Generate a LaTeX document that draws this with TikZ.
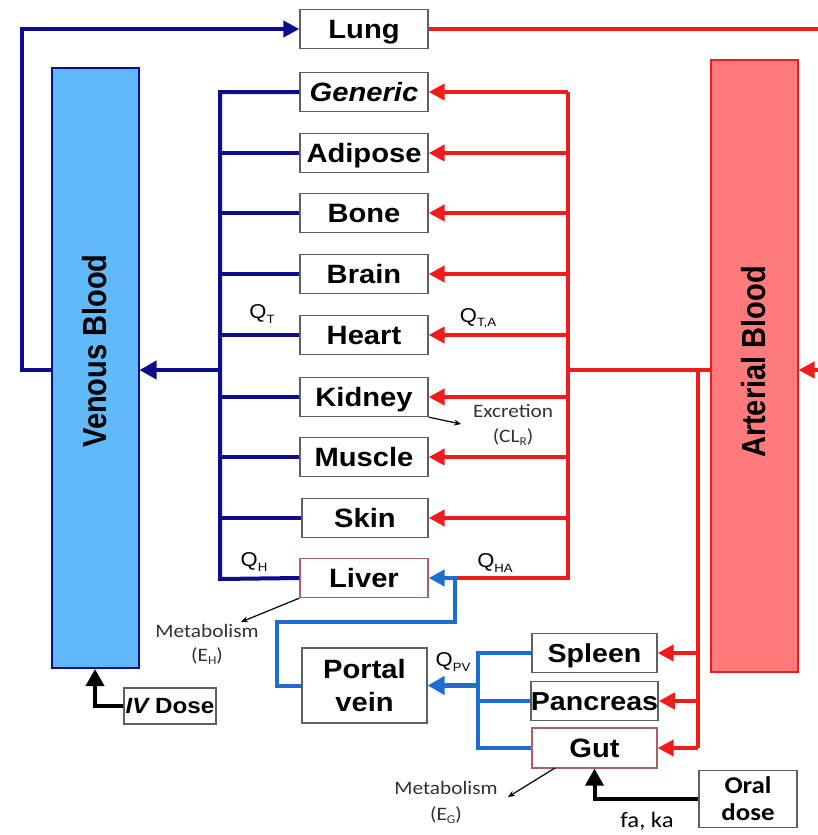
\documentclass[tikz,border=0pt]{standalone}
\usepackage{fontspec}
\setmainfont{Liberation Sans}
\newfontfamily\arialx[FakeStretch=1.1]{Liberation Sans}
\newfontfamily\calx[FakeStretch=1.12]{Carlito}
\usetikzlibrary{arrows.meta}
\definecolor{navyline}{RGB}{12,12,140}
\definecolor{redline}{RGB}{240,28,28}
\definecolor{portalline}{RGB}{30,110,210}
\definecolor{venfill}{RGB}{95,185,250}
\definecolor{artfill}{RGB}{255,122,122}
\definecolor{boxgray}{RGB}{95,95,95}
\definecolor{liverc}{RGB}{170,95,105}
\definecolor{txtgray}{RGB}{50,50,50}
\newcommand\lowsub[1]{\raisebox{-0.4ex}{\fontsize{12}{12}\selectfont #1}}
\begin{document}
\begin{tikzpicture}[x=1pt,y=-1pt,
  boxbase/.style={draw=boxgray, line width=1.3pt, fill=white, inner sep=0pt},
  organ/.style={boxbase, minimum width=128pt, minimum height=39pt, text height=18.6pt, text depth=0pt, font=\arialx\bfseries\fontsize{26.5}{30}\selectfont},
  venous/.style={draw=navyline, line width=4pt},
  arterial/.style={draw=redline, line width=4pt},
  portal/.style={draw=portalline, line width=4pt},
  dose/.style={draw=black, line width=4pt},
  tipA/.style={-{Triangle[length=16pt,width=16pt]}},
  tipB/.style={-{Triangle[length=17pt,width=18pt]}},
  thinarrow/.style={draw=black, line width=1.2pt, -{Stealth[length=7pt,width=6pt]}},
  qlab/.style={font=\arialx\fontsize{20}{22}\selectfont, text=black, inner sep=0pt},
  smalllab/.style={font=\calx\fontsize{19}{22}\selectfont, text=txtgray, inner sep=0pt, align=center}
]
\useasboundingbox (0,0) rectangle (817,835);

% blood compartments
\node[draw=navyline, line width=2pt, fill=venfill, minimum width=87pt, minimum height=600pt, inner sep=0pt] (vb) at (95,368) {};
\node[inner sep=0pt] (vbt) at (95,351) {\rotatebox{90}{\scalebox{1}[1.15]{\fontsize{29}{32}\selectfont\bfseries Venous Blood}}};
\node[draw=redline, line width=2pt, fill=artfill, minimum width=87pt, minimum height=612pt, inner sep=0pt] (ab) at (754,366) {};
\node[inner sep=0pt] (abt) at (754,362) {\rotatebox{90}{\scalebox{1}[1.15]{\fontsize{29}{32}\selectfont\bfseries Arterial Blood}}};

% organs
\node[organ] (lung) at (364,29) {Lung};
\node[organ] (generic) at (364,92) {\itshape Generic};
\node[organ] (adipose) at (364,153) {Adipose};
\node[organ] (bone) at (364,213) {Bone};
\node[organ] (brain) at (364,274) {Brain};
\node[organ] (heart) at (364,335) {Heart};
\node[organ] (kidney) at (364,397) {Kidney};
\node[organ] (muscle) at (364,457) {Muscle};
\node[organ, minimum width=126pt] (skin) at (365,518) {Skin};
\node[organ, draw=liverc] (liver) at (364,578) {Liver};
\node[boxbase, minimum width=125pt, minimum height=75pt, align=center, font=\arialx\bfseries\fontsize{26.5}{33}\selectfont] (pv) at (364.5,685.5) {Portal\\vein};
\node[organ, minimum width=125pt, font=\arialx\bfseries\fontsize{26}{30}\selectfont] (spleen) at (594.5,653) {Spleen};
\node[organ, minimum width=125pt, font=\arialx\bfseries\fontsize{26}{30}\selectfont] (pancreas) at (594.5,701) {Pancreas};
\node[organ, minimum width=125pt, minimum height=40pt, draw=liverc] (gut) at (594.5,748) {Gut};
\node[boxbase, minimum width=98pt, minimum height=57pt, align=center, font=\calx\bfseries\fontsize{24}{27}\selectfont] (oral) at (748,799) {Oral\\dose};
\node[boxbase, minimum width=92pt, minimum height=36pt, font=\arialx\bfseries\fontsize{22}{24}\selectfont] (iv) at (170,706) {\itshape IV\upshape\ Dose};

% coordinates
\coordinate (bb) at (220,579);
\coordinate (vj) at (220,370);
\coordinate (vl) at (22,370);
\coordinate (rt) at (568,92);
\coordinate (rb) at (568,578);
\coordinate (rj) at (568,370);
\coordinate (aj) at (698,370);
\coordinate (rr) at (822,370);
\coordinate (hj) at (455,578);
\coordinate (pl) at (277,622);
\coordinate (pc) at (478,748);

% venous side
\draw[venous] (generic.west) -| (bb) -- (liver.west);
\foreach \o in {adipose,bone,brain,heart,kidney,muscle,skin}
  \draw[venous] (\o.west) -- (\o.west -| bb);
\draw[venous, tipB] (vj) -- (vj -| vb.east);
\draw[venous, tipA] (vj -| vb.west) -- (vl) |- (lung.west);

% arterial side
\draw[arterial] (rt) -- (rb) -- (hj);
\foreach \o in {generic,adipose,bone,brain,heart,kidney,muscle,skin}
  \draw[arterial, tipA] (\o.east -| rt) -- (\o.east);
\draw[arterial] (rj) -- (rj -| ab.west);
\draw[arterial] (aj) -- (aj |- gut.east);
\foreach \o in {spleen,pancreas,gut}
  \draw[arterial, tipA] (\o.east -| aj) -- (\o.east);
\draw[arterial] (lung.east) -| (rr);
\draw[arterial, tipA] (rr) -- (rr -| ab.east);

% portal side
\draw[portal, tipA] (pv.west) -- (pv.west -| pl) -- (pl) -| (hj) -- (liver.east);
\draw[portal] (spleen.west) -| (pc) -- (gut.west);
\draw[portal] (pancreas.west) -- (pancreas.west -| pc);
\draw[portal, line width=5pt, tipB] (pv.east -| pc) -- (pv.east);

% doses
\draw[dose, tipB] (oral.west) -| (gut.south);
\draw[dose, tipB] (iv.west) -| (vb.south);

% thin arrows
\coordinate (exc) at (461,424);
\coordinate (meh) at (241,622);
\coordinate (gsrc) at (555,768);
\coordinate (meg) at (508,797);
\draw[thinarrow] (kidney.south east) -- (exc);
\draw[thinarrow] (liver.south west) -- (meh);
\draw[thinarrow] (gsrc) -- (meg);

% labels
\node[qlab] (qt) at (262,314) {Q\lowsub{T}};
\node[qlab] (qta) at (478,318) {Q\lowsub{T,A}};
\node[qlab] (qh) at (254,562) {Q\lowsub{H}};
\node[qlab] (qha) at (495,563) {Q\lowsub{HA}};
\node[qlab] (qpv) at (453,662) {Q\lowsub{PV}};
\node[smalllab] (excl) at (513,411) {Excretion};
\node[smalllab] (clr) at (513,437) {(CL\lowsub{R})};
\node[smalllab] (mehl) at (207,631) {Metabolism};
\node[smalllab] (ehl) at (207,656) {(E\lowsub{H})};
\node[smalllab] (megl) at (446,788) {Metabolism};
\node[smalllab] (egl) at (446,815) {(E\lowsub{G})};
\node[font=\calx\fontsize{22}{24}\selectfont, inner sep=0pt] (faka) at (647,821) {fa, ka};
\end{tikzpicture}
\end{document}
